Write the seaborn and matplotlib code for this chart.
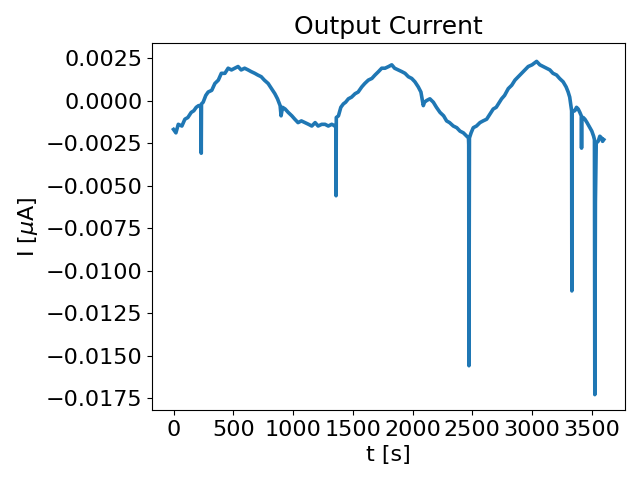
import numpy as np
import pandas as pd
import seaborn as sns
import matplotlib
matplotlib.use("Agg")
import matplotlib.pyplot as plt
from matplotlib.ticker import MultipleLocator

# time [s]
t_s = [0, 20, 40, 70, 95, 120, 148, 170, 190, 210, 225, 230, 232, 234, 248,
       270, 290, 320, 346, 375, 400, 430, 457, 485, 513, 540, 566, 595, 624,
       650, 680, 705, 734, 760, 792, 820, 848, 870, 892, 900, 912, 934, 960,
       990, 1015, 1042, 1070, 1101, 1130, 1157, 1185, 1210, 1240, 1268, 1295,
       1324, 1352, 1358, 1360, 1362, 1380, 1400, 1421, 1440, 1463, 1490, 1519,
       1545, 1575, 1600, 1630, 1660, 1686, 1715, 1742, 1770, 1800, 1826, 1850,
       1881, 1910, 1937, 1965, 1993, 2020, 2048, 2070, 2085, 2090, 2100, 2118,
       2145, 2174, 2200, 2230, 2260, 2285, 2310, 2341, 2370, 2397, 2425, 2453,
       2468, 2470, 2472, 2476, 2490, 2508, 2535, 2564, 2590, 2620, 2648, 2675,
       2700, 2745, 2770, 2801, 2830, 2857, 2885, 2913, 2940, 2968, 3000, 3038,
       3065, 3093, 3120, 3149, 3175, 3205, 3230, 3260, 3285, 3302, 3315, 3325,
       3331, 3333, 3336, 3345, 3358, 3372, 3386, 3400, 3412, 3414, 3416, 3428,
       3442, 3460, 3484, 3500, 3515, 3522, 3525, 3530, 3537, 3553, 3567, 3581,
       3590, 3600]

# current [uA]
i_ua = [-0.0017, -0.0019, -0.0014, -0.0015, -0.0011, -0.0010, -0.0007,
        -0.0006, -0.0004, -0.0003, -0.0003, -0.0004, -0.0031, -0.0002,
        -0.0001, 0.0003, 0.0005, 0.0006, 0.0010, 0.0012, 0.0016, 0.0016,
        0.0019, 0.0018, 0.0019, 0.0020, 0.0018, 0.0019, 0.0018, 0.0017,
        0.0016, 0.0015, 0.0014, 0.0012, 0.0010, 0.0007, 0.0004, 0.0001,
        -0.0003, -0.0009, -0.0004, -0.0005, -0.0007, -0.0009, -0.0011,
        -0.0013, -0.0012, -0.0013, -0.0014, -0.0015, -0.0013, -0.0015,
        -0.0014, -0.0014, -0.0015, -0.0014, -0.0015, -0.0016, -0.0056,
        -0.0010, -0.0009, -0.0004, -0.0002, -0.0001, 0.0001, 0.0002, 0.0004,
        0.0005, 0.0008, 0.0010, 0.0012, 0.0013, 0.0015, 0.0017, 0.0019,
        0.0019, 0.0020, 0.0021, 0.0019, 0.0018, 0.0017, 0.0016, 0.0014,
        0.0013, 0.0011, 0.0008, 0.0005, -0.0001, -0.0003, -0.0001, 0.0000,
        0.0001, -0.0001, -0.0004, -0.0007, -0.0009, -0.0012, -0.0013,
        -0.0015, -0.0016, -0.0018, -0.0019, -0.0021, -0.0022, -0.0026,
        -0.0156, -0.0022, -0.0019, -0.0016, -0.0015, -0.0013, -0.0012,
        -0.0011, -0.0008, -0.0005, -0.0004, 0.0001, 0.0003, 0.0007, 0.0009,
        0.0012, 0.0014, 0.0016, 0.0018, 0.0020, 0.0021, 0.0023, 0.0021,
        0.0020, 0.0019, 0.0018, 0.0016, 0.0015, 0.0013, 0.0011, 0.0008,
        0.0005, 0.0002, -0.0003, -0.0006, -0.0112, -0.0007, -0.0006, -0.0006,
        -0.0004, -0.0005, -0.0007, -0.0009, -0.0028, -0.0010, -0.0010,
        -0.0011, -0.0013, -0.0016, -0.0018, -0.0021, -0.0023, -0.0173,
        -0.0060, -0.0025, -0.0024, -0.0021, -0.0022, -0.0024, -0.0023]

df = pd.DataFrame({"t": t_s, "I": i_ua})

plt.rcParams["font.size"] = 16
fig, ax = plt.subplots(figsize=(6.4, 4.8), dpi=100)
sns.lineplot(data=df, x="t", y="I", estimator=None, sort=False,
             color="#1f77b4", linewidth=2.6, ax=ax)
ax.xaxis.set_major_locator(MultipleLocator(500))
ax.yaxis.set_major_locator(MultipleLocator(0.0025))
ax.set_ylim(-0.0182, 0.0034)
ax.set_title("Output Current", fontsize=18)
ax.set_xlabel("t [s]")
ax.set_ylabel(r"I [$\mu$A]")
fig.subplots_adjust(left=0.2375, right=0.977, top=0.911, bottom=0.146)
fig.savefig("out.png")
